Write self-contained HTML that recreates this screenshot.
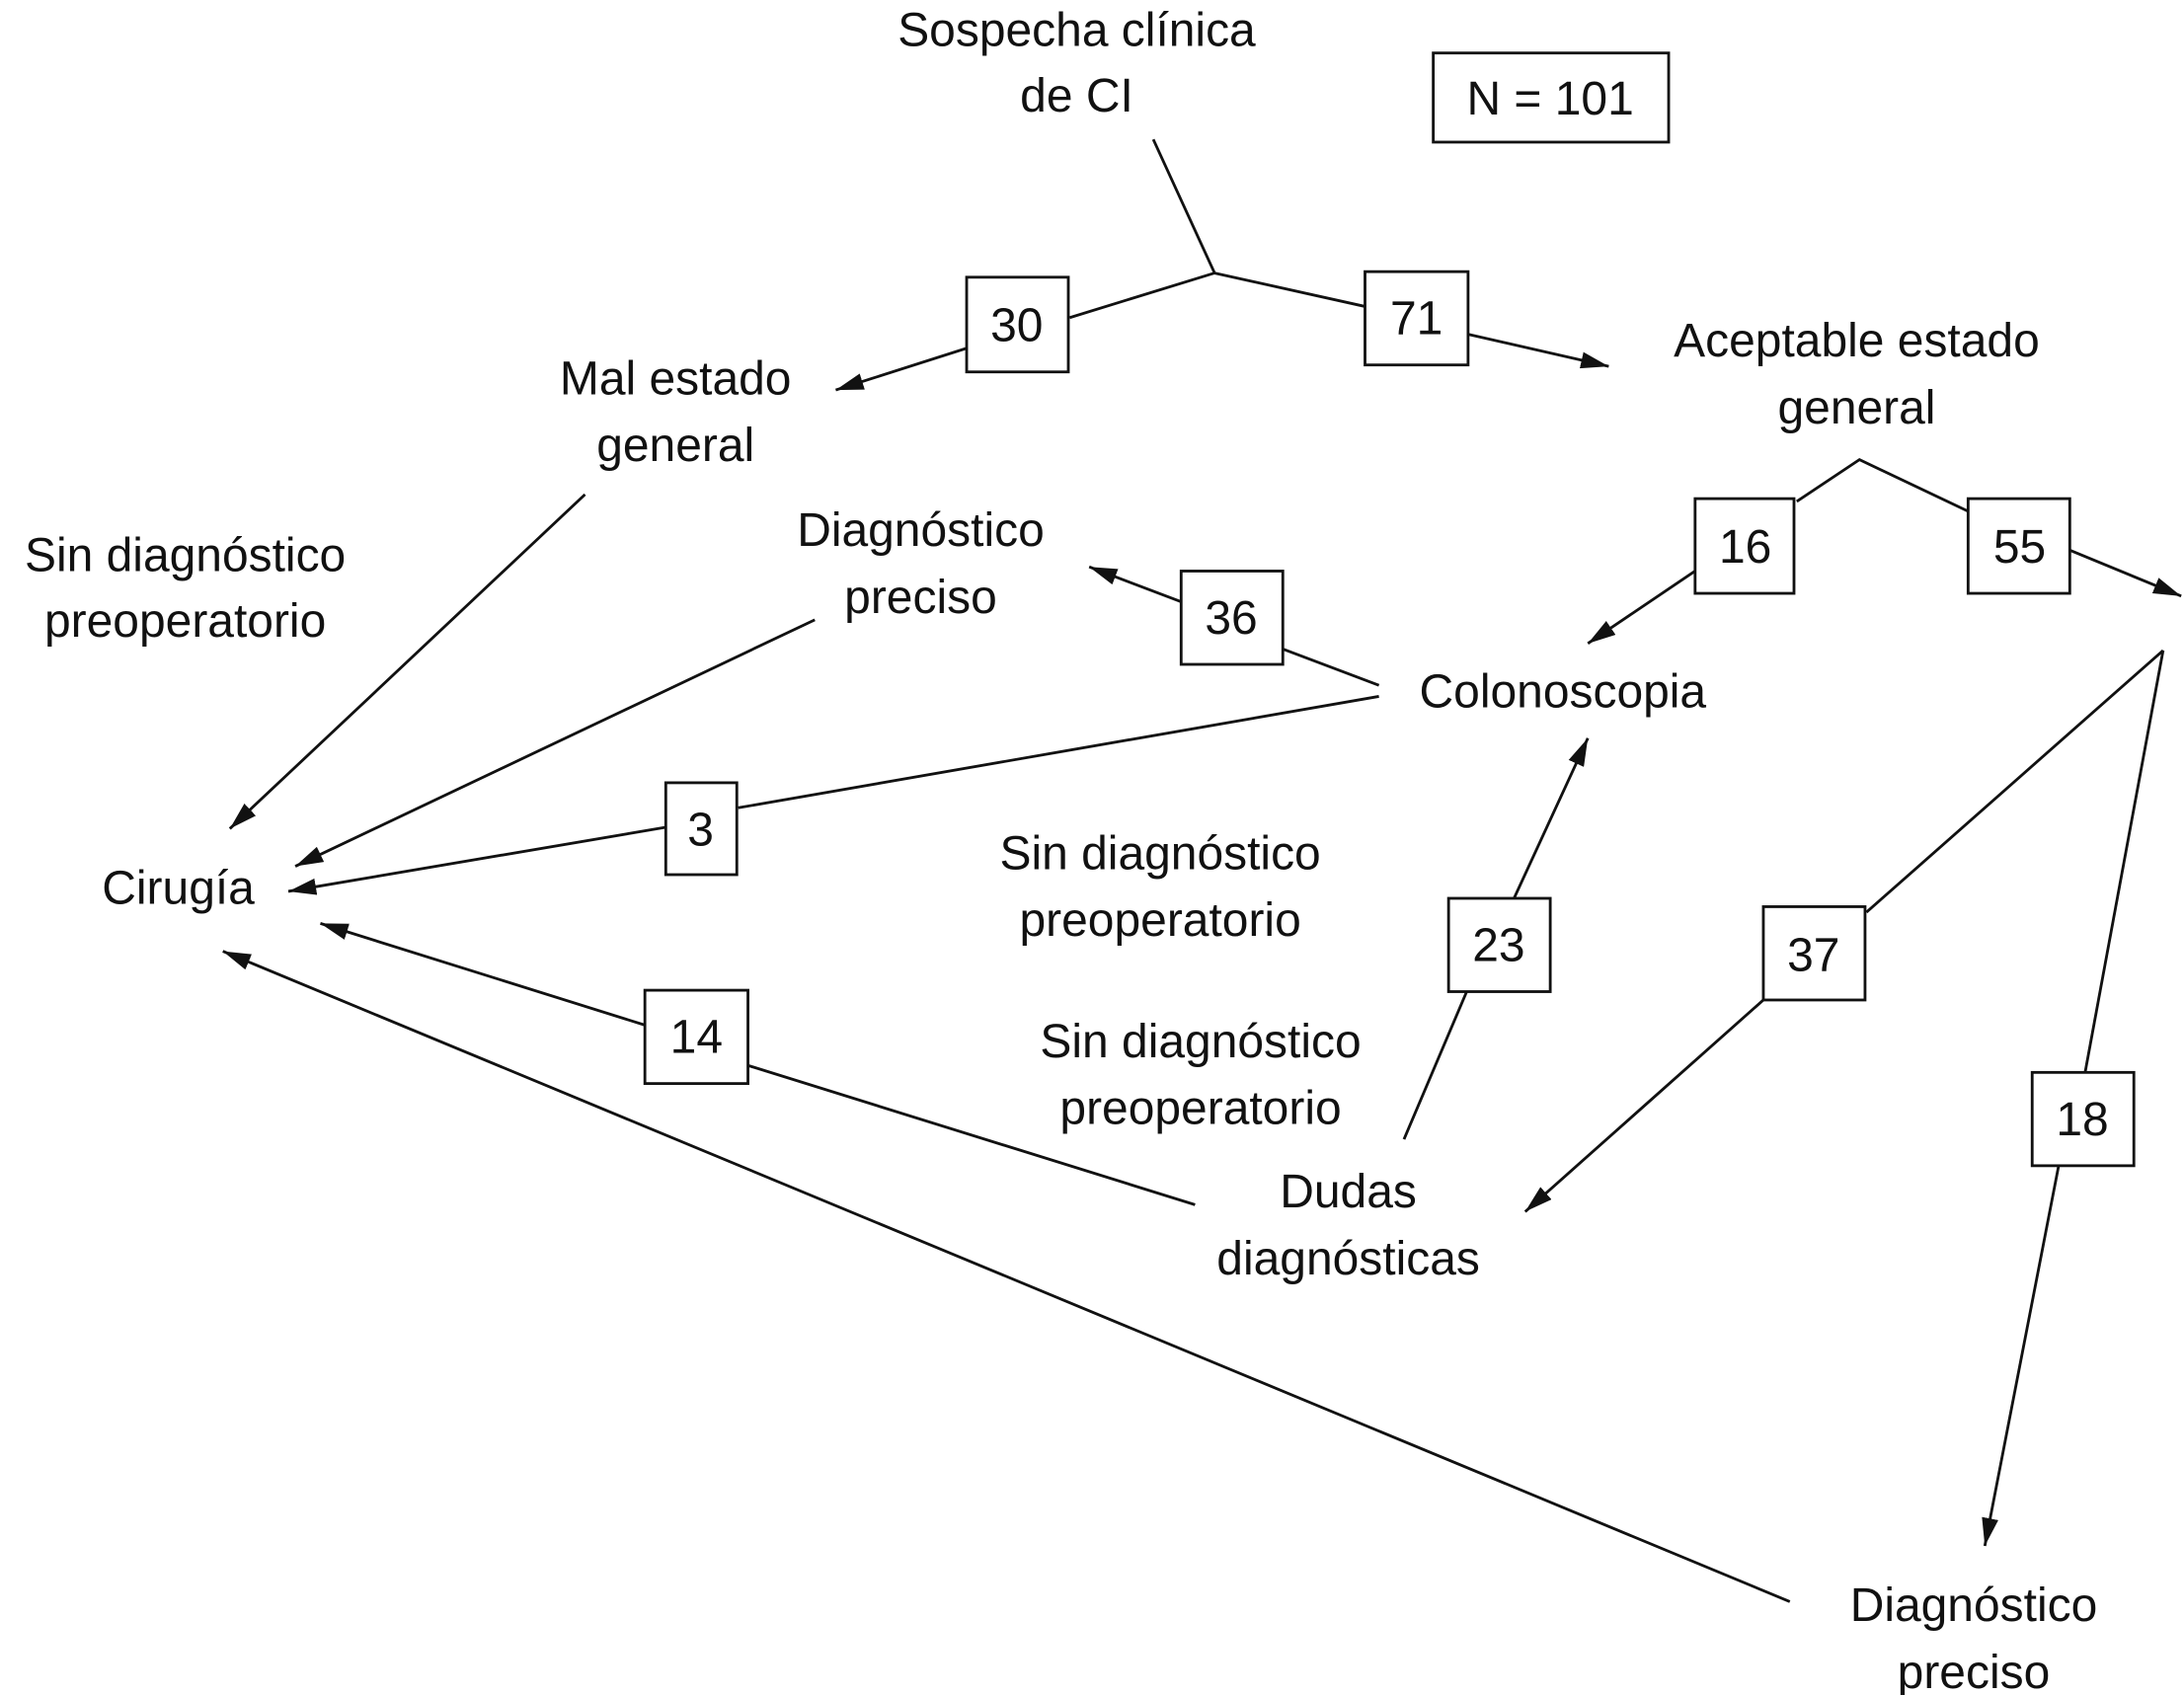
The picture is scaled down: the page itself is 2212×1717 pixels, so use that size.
<!DOCTYPE html>
<html><head><meta charset="utf-8"><style>
html,body{margin:0;padding:0;background:#fff;}
svg{display:block;}
text{font-family:"Liberation Sans",Arial,sans-serif;font-size:34px;fill:#111;text-anchor:middle;}
</style></head><body>
<svg width="2212" height="1717" viewBox="0 0 1568 1217" xmlns="http://www.w3.org/2000/svg">
<defs>
<marker id="a" viewBox="0 0 20 12" refX="20" refY="6" markerWidth="20" markerHeight="12" markerUnits="userSpaceOnUse" orient="auto">
<path d="M0,0 L20,6 L0,12 z" fill="#111"/>
</marker>
</defs>
<g stroke="#111" stroke-width="2" fill="none">
<rect x="1029" y="38" width="169" height="64"/>
<line x1="828" y1="100" x2="872" y2="196"/>
<line x1="872" y1="196" x2="768" y2="228"/>
<line x1="872" y1="196" x2="980" y2="220"/>
<line x1="694" y1="250" x2="600" y2="280" marker-end="url(#a)"/>
<line x1="1054" y1="240" x2="1155" y2="263" marker-end="url(#a)"/>
<polyline points="1290,360 1335,330 1415,368"/>
<line x1="1217" y1="410" x2="1140" y2="462" marker-end="url(#a)"/>
<line x1="1486" y1="395" x2="1566" y2="428" marker-end="url(#a)"/>
<line x1="848" y1="432" x2="782" y2="407" marker-end="url(#a)"/>
<line x1="921" y1="466" x2="990" y2="492"/>
<line x1="990" y1="500" x2="530" y2="580"/>
<line x1="478" y1="594" x2="207" y2="640" marker-end="url(#a)"/>
<line x1="420" y1="355" x2="165" y2="595" marker-end="url(#a)"/>
<line x1="585" y1="445" x2="212" y2="622" marker-end="url(#a)"/>
<line x1="463" y1="736" x2="230" y2="663" marker-end="url(#a)"/>
<line x1="537" y1="765" x2="858" y2="865"/>
<line x1="1008" y1="818" x2="1053" y2="712"/>
<line x1="1087" y1="645" x2="1140" y2="530" marker-end="url(#a)"/>
<line x1="1553" y1="467" x2="1340" y2="655"/>
<line x1="1266" y1="718" x2="1095" y2="870" marker-end="url(#a)"/>
<line x1="1553" y1="467" x2="1497" y2="770"/>
<line x1="1478" y1="837" x2="1425" y2="1110" marker-end="url(#a)"/>
<line x1="1285" y1="1150" x2="160" y2="683" marker-end="url(#a)"/>
</g>
<g stroke="#111" stroke-width="2" fill="#fff">
<rect x="694" y="199" width="73" height="68"/>
<rect x="980" y="195" width="74" height="67"/>
<rect x="1217" y="358" width="71" height="68"/>
<rect x="1413" y="358" width="73" height="68"/>
<rect x="848" y="410" width="73" height="67"/>
<rect x="478" y="562" width="51" height="66"/>
<rect x="463" y="711" width="74" height="67"/>
<rect x="1040" y="645" width="73" height="67"/>
<rect x="1266" y="651" width="73" height="67"/>
<rect x="1459" y="770" width="73" height="67"/>
</g>
<text x="773" y="33">Sospecha clínica</text>
<text x="773" y="80">de CI</text>
<text x="1113" y="82">N = 101</text>
<text x="730" y="245">30</text>
<text x="1017" y="240">71</text>
<text x="1253" y="404">16</text>
<text x="1450" y="404">55</text>
<text x="884" y="455">36</text>
<text x="503" y="607">3</text>
<text x="500" y="756">14</text>
<text x="1076" y="690">23</text>
<text x="1302" y="697">37</text>
<text x="1495" y="815">18</text>
<text x="485" y="283">Mal estado</text>
<text x="485" y="331">general</text>
<text x="1333" y="256">Aceptable estado</text>
<text x="1333" y="304">general</text>
<text x="133" y="410">Sin diagnóstico</text>
<text x="133" y="457">preoperatorio</text>
<text x="661" y="392">Diagnóstico</text>
<text x="661" y="440">preciso</text>
<text x="1122" y="508">Colonoscopia</text>
<text x="128" y="649">Cirugía</text>
<text x="833" y="624">Sin diagnóstico</text>
<text x="833" y="672">preoperatorio</text>
<text x="862" y="759">Sin diagnóstico</text>
<text x="862" y="807">preoperatorio</text>
<text x="968" y="867">Dudas</text>
<text x="968" y="915">diagnósticas</text>
<text x="1417" y="1164">Diagnóstico</text>
<text x="1417" y="1212">preciso</text>
</svg>
</body></html>
